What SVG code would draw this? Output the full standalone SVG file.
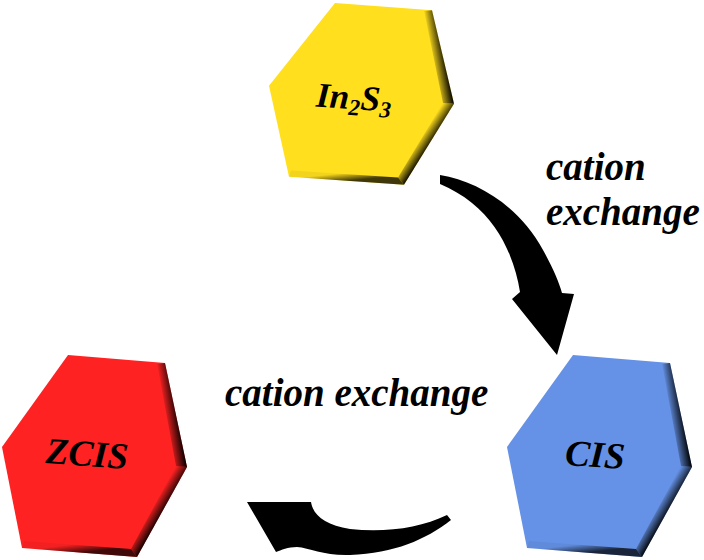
<svg xmlns="http://www.w3.org/2000/svg" width="704" height="560" viewBox="0 0 704 560">
<style>
.lbl{font-family:"Liberation Serif","Times New Roman",serif;font-weight:bold;font-style:italic;fill:#000;}
.arrow{fill:#000;stroke:none;}
</style>
<defs>
<linearGradient id="gA" gradientUnits="userSpaceOnUse" x1="165" y1="60" x2="178" y2="58">
<stop offset="0" stop-color="#000" stop-opacity="0.05"/><stop offset="1" stop-color="#000" stop-opacity="0.95"/>
</linearGradient>
<linearGradient id="gB" gradientUnits="userSpaceOnUse" x1="153" y1="151" x2="163" y2="157">
<stop offset="0" stop-color="#000" stop-opacity="0.05"/><stop offset="1" stop-color="#000" stop-opacity="0.9"/>
</linearGradient>
<linearGradient id="gC" gradientUnits="userSpaceOnUse" x1="77" y1="189" x2="78" y2="198">
<stop offset="0" stop-color="#000" stop-opacity="0.05"/><stop offset="1" stop-color="#000" stop-opacity="0.75"/>
</linearGradient>
<g id="hexShade">
<polygon points="157,9 165,8 187,112 176,111" fill="url(#gA)"/>
<polygon points="176,111 187,112 137,202 131,194" fill="url(#gB)"/>
<polygon points="131,194 137,202 22,193 24,186" fill="url(#gC)"/>
</g>
</defs>

<g id="node-in2s3">
<g transform="translate(267,3) scale(1,0.9)">
<polygon points="2,92 68,0 165,8 187,112 137,202 22,193" fill="#FFDF1E"/>
<use href="#hexShade"/>
</g>
<text class="lbl" x="316" y="109" font-size="35" transform="rotate(4 352 100)">In<tspan font-size="23" dy="6">2</tspan><tspan dy="-6">S</tspan><tspan font-size="23" dy="6">3</tspan></text>
</g>

<g id="node-zcis">
<g transform="translate(0,355)">
<polygon points="2,92 68,0 165,8 187,112 137,202 22,193" fill="#FF2222"/>
<use href="#hexShade"/>
</g>
<text class="lbl" x="87" y="466" font-size="37" text-anchor="middle" transform="rotate(4 87 455)">ZCIS</text>
</g>

<g id="node-cis">
<g transform="translate(505,355)">
<polygon points="2,92 68,0 165,8 187,112 137,202 22,193" fill="#6592E6"/>
<use href="#hexShade"/>
</g>
<text class="lbl" x="595" y="467" font-size="37" text-anchor="middle" transform="rotate(4 595 456)">CIS</text>
</g>

<g id="connectors">
<path class="arrow" d="M440,175 C478,181 520,207 543,250 C553,268 559,282 562,293 L574,294 L557,355 L512,299 L520,292 C515,260 500,225 472,203 C462,195 452,189 440,184 Z"/>
<path class="arrow" d="M247,502 L311,502 C313,515 325,525 350,529 C385,533 420,528 447,515 L451,520 C425,540 395,553 350,555 C325,556 310,548 297,547 C288,547 281,550 276,552 Z"/>
</g>

<g id="labels">
<text class="lbl" x="546" y="180" font-size="39">cation</text>
<text class="lbl" x="546" y="225" font-size="39">exchange</text>
<text class="lbl" x="225" y="406" font-size="39">cation exchange</text>
</g>
</svg>
